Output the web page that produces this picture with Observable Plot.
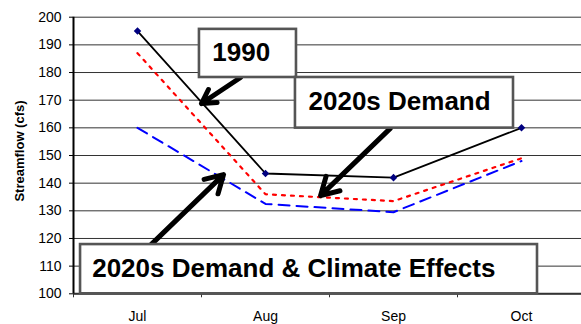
<!DOCTYPE html>
<html>
<head>
<meta charset="utf-8">
<script src="https://cdn.jsdelivr.net/npm/d3@7"></script>
<script src="https://cdn.jsdelivr.net/npm/@observablehq/plot@0.6"></script>
<style>
  html, body { margin: 0; padding: 0; background: #fff; }
  svg { font-family: Arial, "Liberation Sans", sans-serif; }
</style>
</head>
<body>
<div id="chart"></div>
<script>
// ---- data ----
const months = ["Jul", "Aug", "Sep", "Oct"];
const flow1990 = [195, 143.5, 142, 160];
const demand2020 = [187, 136, 133.5, 149];
const climate2020 = [160, 132.5, 129.5, 148];
const yTicks = [100, 110, 120, 130, 140, 150, 160, 170, 180, 190, 200];
const yLabel = "Streamflow (cfs)";

// ---- annotation callouts (data coordinates: x = month index, y = cfs) ----
const noteText = ["1990", "2020s Demand", "2020s Demand & Climate Effects"];
const noteX = [0.584, 1.336, -0.354];
const noteY = [187.3, 169.5, 109.0];
const boxX1 = [0.484, 1.234, -0.445];
const boxX2 = [1.242, 2.9375, 3.125];
const boxY1 = [195.6, 178.2, 117.8];
const boxY2 = [178.2, 159.9, 100.0];
const arrowX1 = [0.805, 1.977, 0.10];
const arrowY1 = [178.2, 159.9, 117.5];
const arrowX2 = [0.50, 1.43, 0.672];
const arrowY2 = [168.8, 135.5, 143.1];

const idx = months.map((_, i) => i);
const series = (vals) => idx.map(i => ({i, v: vals[i]}));
const notes = noteText.map((t, k) => ({
  t, x: noteX[k], y: noteY[k],
  bx1: boxX1[k], bx2: boxX2[k], by1: boxY1[k], by2: boxY2[k],
  ax1: arrowX1[k], ay1: arrowY1[k], ax2: arrowX2[k], ay2: arrowY2[k]
}));

const chart = Plot.plot({
  width: 581,
  height: 324,
  marginLeft: 73,
  marginRight: 0,
  marginTop: 16.7,
  marginBottom: 30.7,
  style: {fontFamily: 'Arial, "Liberation Sans", sans-serif', background: "#fff", overflow: "visible"},
  x: {domain: [-0.5, 3.5], range: [73, 585]},
  y: {domain: [100, 200]},
  marks: [
    Plot.gridY(yTicks, {stroke: "#333", strokeOpacity: 1, strokeWidth: 1}),
    Plot.axisY(yTicks, {tickSize: 4, tickPadding: 8, fontSize: 14, label: null, stroke: "#000", style: "letter-spacing:0.6px"}),
    Plot.axisX([-0.5, 0.5, 1.5, 2.5, 3.5], {tickSize: 4, tickFormat: () => "", label: null, stroke: "#333"}),
    Plot.axisX(idx, {tickSize: 0, tickPadding: 17, fontSize: 14, tickFormat: i => months[i], label: null, style: "letter-spacing:0.5px"}),
    Plot.text([yLabel], {frameAnchor: "left", textAnchor: "middle", lineAnchor: "middle", text: d => d, rotate: -90, dx: -54, dy: -4.5, fontSize: 13, fontWeight: "bold", fill: "#000", style: "letter-spacing:0.9px"}),
    Plot.line(series(climate2020), {x: "i", y: "v", stroke: "#0000ff", strokeWidth: 2, strokeDasharray: "11,7"}),
    Plot.line(series(demand2020), {x: "i", y: "v", stroke: "#ff0000", strokeWidth: 2.2, strokeDasharray: "3,6"}),
    Plot.line(series(flow1990), {x: "i", y: "v", stroke: "#000", strokeWidth: 1.8}),
    Plot.dot(series(flow1990), {x: "i", y: "v", symbol: "square", r: 3, rotate: 45, fill: "#000080", stroke: "none"}),
    Plot.arrow(notes, {x1: "ax1", y1: "ay1", x2: "ax2", y2: "ay2", stroke: "#000", strokeWidth: 5, headLength: 6, headAngle: 60}),
    Plot.ruleY([100], {stroke: "#333", strokeWidth: 2}),
    Plot.ruleX([-0.5], {stroke: "#000", strokeWidth: 2}),
    Plot.rect(notes, {x1: "bx1", x2: "bx2", y1: "by1", y2: "by2", fill: "#fff", stroke: "#555", strokeWidth: 2.6}),
    Plot.text(notes, {x: "x", y: "y", text: "t", textAnchor: "start", lineAnchor: "middle", fontSize: 26, fontWeight: "bold", fill: "#000"})
  ]
});
document.getElementById("chart").appendChild(chart);
</script>
</body>
</html>
